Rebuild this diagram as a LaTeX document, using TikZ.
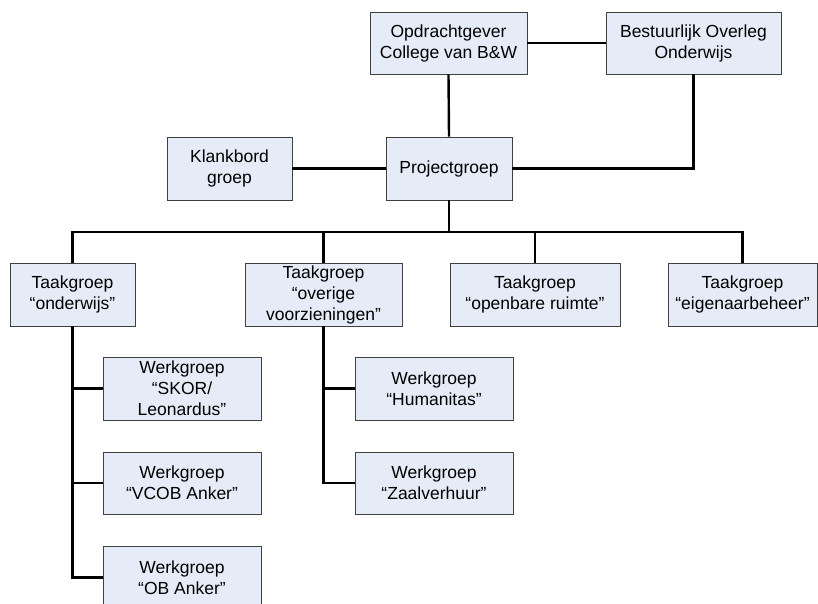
\documentclass[tikz,border=0pt]{standalone}
\usepackage{fontspec}
\setmainfont{Liberation Sans}
\definecolor{boxfill}{RGB}{230,236,247}
\definecolor{boxline}{RGB}{64,64,64}
\tikzset{
  unit/.style={draw=boxline, line width=0.9pt, fill=boxfill, align=center,
    inner sep=0pt, font=\fontsize{17.5}{21}\selectfont},
  link/.style={draw=black, line width=2.4pt, line join=miter}
}
\begin{document}
\begin{tikzpicture}[x=1pt, y=-1pt]
\useasboundingbox (0,0) rectangle (818,603);
\clip (0,0) rectangle (818,603);

% top level
\node[unit, minimum width=157pt, minimum height=62pt] (opd) at (448.5,43) {Opdrachtgever\\College van B\&W};
\node[unit, minimum width=175pt, minimum height=62pt] (bov) at (693.5,43) {Bestuurlijk Overleg\\Onderwijs};
\node[unit, minimum width=126pt, minimum height=63pt] (proj) at (449,168.5) {Projectgroep};
\node[unit, minimum width=125pt, minimum height=63pt] (klank) at (229.5,168.5) {Klankbord\\groep};

% task groups
\node[unit, minimum width=125pt, minimum height=63pt] (t1) at (72.5,294.5) {Taakgroep\\“onderwijs”};
\node[unit, minimum width=157pt, minimum height=63pt] (t2) at (323.5,294.5) {Taakgroep\\“overige\\voorzieningen”};
\node[unit, minimum width=170pt, minimum height=63pt] (t3) at (535,294.5) {Taakgroep\\“openbare ruimte”};
\node[unit, minimum width=149pt, minimum height=63pt] (t4) at (742.5,294.5) {Taakgroep\\“eigenaarbeheer”};

% working groups
\node[unit, minimum width=158pt, minimum height=63pt] (w1) at (182,388.5) {Werkgroep\\“SKOR/\\Leonardus”};
\node[unit, minimum width=158pt, minimum height=62pt] (w2) at (182,483) {Werkgroep\\“VCOB Anker”};
\node[unit, minimum width=158pt, minimum height=63pt] (w3) at (182,577.5) {Werkgroep\\“OB Anker”};
\node[unit, minimum width=158pt, minimum height=63pt] (h1) at (434,388.5) {Werkgroep\\“Humanitas”};
\node[unit, minimum width=158pt, minimum height=62pt] (h2) at (434,483) {Werkgroep\\“Zaalverhuur”};

\coordinate (bus) at (449,232);

% connectors
\draw[link] (opd.east) -- (bov.west);
\draw[link] (opd.south) -- (proj.north);
\draw[link] (proj.east) -| (bov.south);
\draw[link] (klank.east) -- (proj.west);
\draw[link] (proj.south) -- (bus);
\draw[link] (t1.north) -- (t1.north |- bus) -- (t4.north |- bus) -- (t4.north);
\draw[link] (t2.north |- bus) -- (t2.north);
\draw[link] (t3.north |- bus) -- (t3.north);

\draw[link] (t1.south) |- (w3.west);
\draw[link] (t1.south |- w1.west) -- (w1.west);
\draw[link] (t1.south |- w2.west) -- (w2.west);
\draw[link] (t2.south) |- (h2.west);
\draw[link] (t2.south |- h1.west) -- (h1.west);
\end{tikzpicture}
\end{document}
